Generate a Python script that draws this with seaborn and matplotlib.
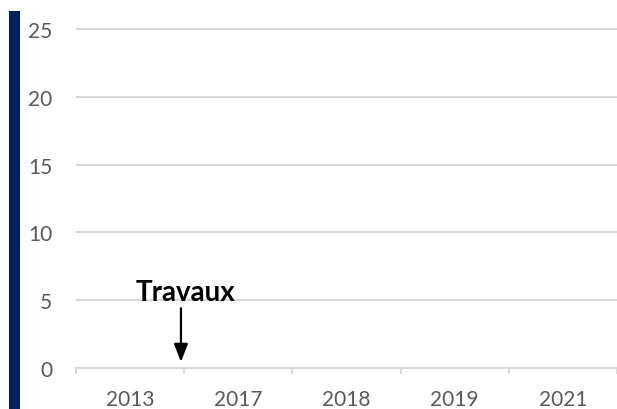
import matplotlib
matplotlib.use("Agg")
import matplotlib.pyplot as plt
from matplotlib.patches import Rectangle
import seaborn as sns

# Données du graphique (aucune valeur affichée)
annees = ["2013", "2017", "2018", "2019", "2021"]
valeurs = [0, 0, 0, 0, 0]
graduations_y = [0, 5, 10, 15, 20, 25]

# Annotation
texte_travaux = "Travaux"

sns.set_theme(style="white")
plt.rcParams['font.family'] = ['Lato', 'DejaVu Sans']

fig = plt.figure(figsize=(6.17, 4.10), dpi=100)
ax = fig.add_axes([76 / 617, 41 / 410, 1 - 76 / 617, (393.6 - 41) / 410])

sns.barplot(x=annees, y=valeurs, color="#4472c4", ax=ax)

ax.set_xlim(-0.5, len(annees) - 0.5)
ax.set_ylim(0, 26)
ax.set_yticks(graduations_y)
ax.yaxis.grid(True, color="#d9d9d9", linewidth=1.5)
ax.set_axisbelow(True)
ax.set_xlabel("")
ax.set_ylabel("")

for s in ["left", "right", "top"]:
    ax.spines[s].set_visible(False)
ax.spines["bottom"].set_color("#d9d9d9")
ax.spines["bottom"].set_linewidth(1.5)

# petites graduations entre les catégories
ax.set_xticks([i - 0.5 for i in range(len(annees) + 1)], minor=True)
ax.tick_params(axis="x", which="minor", length=4, width=1.5, color="#d9d9d9", bottom=True)
ax.tick_params(axis="x", which="major", length=0, pad=15, labelsize=15, labelcolor="#595959")
ax.tick_params(axis="y", length=0, pad=17, labelsize=15, labelcolor="#595959")

# flèche "Travaux"
ax.annotate("", xy=(0.47, 0.45), xytext=(0.47, 4.4),
            arrowprops=dict(arrowstyle="-|>,head_width=0.35,head_length=0.9",
                            color="black", lw=1.6, shrinkA=0, shrinkB=0))
ax.text(0.51, 5.0, texte_travaux, ha="center", va="baseline",
        fontsize=20, fontweight="bold", color="black")

# barre bleue à gauche
fig.add_artist(Rectangle((9 / 617, 0), 11 / 617, 398 / 410,
                         transform=fig.transFigure, color="#002060", lw=0))

fig.savefig("out.png", dpi=100)
